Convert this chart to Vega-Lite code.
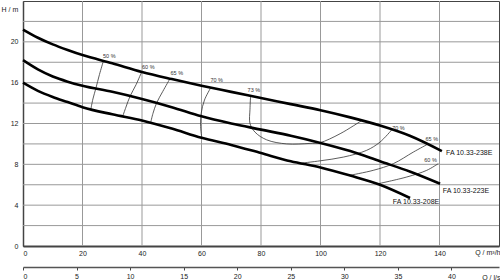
{
  "$schema": "https://vega.github.io/schema/vega-lite/v6.json",
  "width": 476,
  "height": 245,
  "autosize": "none",
  "padding": {"left": 23, "top": 1, "right": 1, "bottom": 34},
  "config": {"view": {"stroke": "#444", "strokeWidth": 1}, "font": "Liberation Sans"},
  "datasets": {
    "gx": [{"Q": 20}, {"Q": 40}, {"Q": 60}, {"Q": 80}, {"Q": 100}, {"Q": 120}, {"Q": 140}],
    "gy": [{"H": 2}, {"H": 4}, {"H": 6}, {"H": 8}, {"H": 10}, {"H": 12}, {"H": 14}, {"H": 16}, {"H": 18}, {"H": 20}, {"H": 22}],
    "curves": [
      {"pump": "238E", "Q": 0, "H": 21.2}, {"pump": "238E", "Q": 5, "H": 20.4}, {"pump": "238E", "Q": 10, "H": 19.75}, {"pump": "238E", "Q": 15, "H": 19.2}, {"pump": "238E", "Q": 20, "H": 18.7}, {"pump": "238E", "Q": 30, "H": 17.9}, {"pump": "238E", "Q": 40, "H": 17.05}, {"pump": "238E", "Q": 50, "H": 16.35}, {"pump": "238E", "Q": 60, "H": 15.7}, {"pump": "238E", "Q": 70, "H": 15.1}, {"pump": "238E", "Q": 80, "H": 14.5}, {"pump": "238E", "Q": 90, "H": 13.9}, {"pump": "238E", "Q": 100, "H": 13.3}, {"pump": "238E", "Q": 110, "H": 12.6}, {"pump": "238E", "Q": 120, "H": 11.8}, {"pump": "238E", "Q": 130, "H": 10.8}, {"pump": "238E", "Q": 140.8, "H": 9.3},
      {"pump": "223E", "Q": 0, "H": 18.2}, {"pump": "223E", "Q": 5, "H": 17.3}, {"pump": "223E", "Q": 10, "H": 16.6}, {"pump": "223E", "Q": 15, "H": 16.1}, {"pump": "223E", "Q": 20, "H": 15.7}, {"pump": "223E", "Q": 30, "H": 15.1}, {"pump": "223E", "Q": 40, "H": 14.4}, {"pump": "223E", "Q": 50, "H": 13.6}, {"pump": "223E", "Q": 60, "H": 12.7}, {"pump": "223E", "Q": 70, "H": 12.0}, {"pump": "223E", "Q": 80, "H": 11.4}, {"pump": "223E", "Q": 90, "H": 10.8}, {"pump": "223E", "Q": 100, "H": 10.1}, {"pump": "223E", "Q": 110, "H": 9.3}, {"pump": "223E", "Q": 120, "H": 8.3}, {"pump": "223E", "Q": 130, "H": 7.3}, {"pump": "223E", "Q": 140.2, "H": 6.1},
      {"pump": "208E", "Q": 0, "H": 16.0}, {"pump": "208E", "Q": 5, "H": 15.2}, {"pump": "208E", "Q": 10, "H": 14.6}, {"pump": "208E", "Q": 15, "H": 14.1}, {"pump": "208E", "Q": 20, "H": 13.6}, {"pump": "208E", "Q": 30, "H": 12.9}, {"pump": "208E", "Q": 40, "H": 12.3}, {"pump": "208E", "Q": 50, "H": 11.5}, {"pump": "208E", "Q": 60, "H": 10.6}, {"pump": "208E", "Q": 70, "H": 9.9}, {"pump": "208E", "Q": 80, "H": 9.1}, {"pump": "208E", "Q": 90, "H": 8.3}, {"pump": "208E", "Q": 100, "H": 7.7}, {"pump": "208E", "Q": 110, "H": 6.9}, {"pump": "208E", "Q": 120, "H": 6.0}, {"pump": "208E", "Q": 130.1, "H": 4.7}
    ],
    "eff": [
      {"e": "50", "o": 1, "Q": 27.0, "H": 18.1}, {"e": "50", "o": 2, "Q": 25.7, "H": 16.8}, {"e": "50", "o": 3, "Q": 24.5, "H": 15.45}, {"e": "50", "o": 4, "Q": 23.5, "H": 14.4}, {"e": "50", "o": 5, "Q": 22.8, "H": 13.4},
      {"e": "60", "o": 1, "Q": 39.9, "H": 17.06}, {"e": "60", "o": 2, "Q": 38.0, "H": 15.8}, {"e": "60", "o": 3, "Q": 36.0, "H": 14.68}, {"e": "60", "o": 4, "Q": 34.6, "H": 13.6}, {"e": "60", "o": 5, "Q": 33.5, "H": 12.69},
      {"e": "65", "o": 1, "Q": 49.4, "H": 16.39}, {"e": "65", "o": 2, "Q": 47.0, "H": 15.15}, {"e": "65", "o": 3, "Q": 44.9, "H": 14.0}, {"e": "65", "o": 4, "Q": 43.7, "H": 13.0}, {"e": "65", "o": 5, "Q": 42.9, "H": 12.07},
      {"e": "70L", "o": 1, "Q": 63.1, "H": 15.5}, {"e": "70L", "o": 2, "Q": 61.0, "H": 14.3}, {"e": "70L", "o": 3, "Q": 59.9, "H": 13.0}, {"e": "70L", "o": 4, "Q": 59.7, "H": 11.7}, {"e": "70L", "o": 5, "Q": 60.1, "H": 10.6},
      {"e": "73", "o": 1, "Q": 76.5, "H": 14.7}, {"e": "73", "o": 2, "Q": 76.3, "H": 13.4}, {"e": "73", "o": 3, "Q": 76.3, "H": 12.0}, {"e": "73", "o": 4, "Q": 78.0, "H": 11.15}, {"e": "73", "o": 5, "Q": 81.9, "H": 10.4}, {"e": "73", "o": 6, "Q": 88.6, "H": 10.0}, {"e": "73", "o": 7, "Q": 96.5, "H": 10.05}, {"e": "73", "o": 8, "Q": 99.8, "H": 10.12}, {"e": "73", "o": 9, "Q": 106.6, "H": 11.0}, {"e": "73", "o": 10, "Q": 113.9, "H": 12.3},
      {"e": "70R", "o": 1, "Q": 93.1, "H": 8.1}, {"e": "70R", "o": 2, "Q": 100, "H": 8.35}, {"e": "70R", "o": 3, "Q": 107.7, "H": 8.71}, {"e": "70R", "o": 4, "Q": 115.5, "H": 9.37}, {"e": "70R", "o": 5, "Q": 120, "H": 10.18}, {"e": "70R", "o": 6, "Q": 124, "H": 11.4},
      {"e": "65R", "o": 1, "Q": 109.9, "H": 6.93}, {"e": "65R", "o": 2, "Q": 117.7, "H": 7.41}, {"e": "65R", "o": 3, "Q": 124.5, "H": 8.07}, {"e": "65R", "o": 4, "Q": 131.2, "H": 9.2}, {"e": "65R", "o": 5, "Q": 136.2, "H": 10.0},
      {"e": "60R", "o": 1, "Q": 119.4, "H": 6.1}, {"e": "60R", "o": 2, "Q": 129, "H": 6.76}, {"e": "60R", "o": 3, "Q": 135.7, "H": 7.41}, {"e": "60R", "o": 4, "Q": 139.6, "H": 8.07}
    ],
    "efflabels": [
      {"t": "50 %", "Q": 29.0, "H": 18.57}, {"t": "60 %", "Q": 42.1, "H": 17.56}, {"t": "65 %", "Q": 51.7, "H": 16.9}, {"t": "70 %", "Q": 65.1, "H": 16.3}, {"t": "73 %", "Q": 77.6, "H": 15.3}, {"t": "70 %", "Q": 126.2, "H": 11.6}, {"t": "65 %", "Q": 137.4, "H": 10.44}, {"t": "60 %", "Q": 137, "H": 8.46}
    ],
    "labelsLeft": [
      {"t": "FA 10.33-238E", "Q": 142.2, "H": 9.07}, {"t": "FA 10.33-223E", "Q": 141.1, "H": 5.37}
    ],
    "labelsRight": [
      {"t": "FA 10.33-208E", "Q": 139.9, "H": 4.32}
    ],
    "ls": [{"ls": 0}, {"ls": 44.44}]
  },
  "layer": [
    {
      "layer": [
        {"data": {"name": "curves"}, "mark": {"type": "line", "interpolate": "monotone", "strokeWidth": 2.6, "color": "#000", "opacity": 0},
          "encoding": {
            "x": {"field": "Q", "type": "quantitative", "scale": {"domain": [0, 160], "nice": false, "zero": false},
              "axis": {"orient": "bottom", "values": [0, 20, 40, 60, 80, 100, 120, 140], "labelOverlap": false, "ticks": false, "labelPadding": 3, "labelFontSize": 7, "labelColor": "#222", "domainColor": "#444", "domainWidth": 2, "grid": false, "title": "Q / m³/h", "titleFontSize": 7, "titleFontWeight": "normal", "titleColor": "#222", "titleAnchor": null, "titleAlign": "right", "titleBaseline": "middle", "titleX": 477, "titleY": 6.5}},
            "y": {"field": "H", "type": "quantitative", "scale": {"domain": [0, 24], "nice": false},
              "axis": {"values": [0, 2, 4, 6, 8, 10, 12, 14, 16, 18, 20, 22, 24], "labelExpr": "datum.value > 20 ? '' : datum.label", "labelOverlap": false, "ticks": false, "labelPadding": 5, "labelFontSize": 7, "labelColor": "#222", "domainColor": "#444", "domainWidth": 1.5, "grid": false, "title": "H / m", "titleAngle": 0, "titleFontSize": 7, "titleFontWeight": "normal", "titleColor": "#222", "titleAnchor": null, "titleAlign": "left", "titleBaseline": "middle", "titleX": -22, "titleY": 8}},
            "detail": {"field": "pump"}}},
        {"data": {"name": "gx"}, "mark": {"type": "rule", "color": "#999", "strokeWidth": 1},
          "encoding": {"x": {"field": "Q", "type": "quantitative", "scale": {"domain": [0, 160], "nice": false, "zero": false}}}},
        {"data": {"name": "gy"}, "mark": {"type": "rule", "color": "#999", "strokeWidth": 1},
          "encoding": {"y": {"field": "H", "type": "quantitative", "scale": {"domain": [0, 24], "nice": false}}}},
        {"data": {"name": "eff"}, "mark": {"type": "line", "interpolate": "catmull-rom", "strokeWidth": 0.8, "color": "#333"},
          "encoding": {
            "x": {"field": "Q", "type": "quantitative", "scale": {"domain": [0, 160], "nice": false, "zero": false}},
            "y": {"field": "H", "type": "quantitative", "scale": {"domain": [0, 24], "nice": false}},
            "detail": {"field": "e"}, "order": {"field": "o", "type": "quantitative"}}},
        {"data": {"name": "curves"}, "mark": {"type": "line", "interpolate": "monotone", "strokeWidth": 2.6, "color": "#000"},
          "encoding": {
            "x": {"field": "Q", "type": "quantitative", "scale": {"domain": [0, 160], "nice": false, "zero": false}},
            "y": {"field": "H", "type": "quantitative", "scale": {"domain": [0, 24], "nice": false}},
            "detail": {"field": "pump"}}},
        {"data": {"name": "efflabels"}, "mark": {"type": "text", "fontSize": 5.5, "color": "#333", "align": "center", "baseline": "middle"},
          "encoding": {
            "x": {"field": "Q", "type": "quantitative", "scale": {"domain": [0, 160], "nice": false, "zero": false}},
            "y": {"field": "H", "type": "quantitative", "scale": {"domain": [0, 24], "nice": false}},
            "text": {"field": "t"}}},
        {"data": {"name": "labelsLeft"}, "mark": {"type": "text", "fontSize": 7, "color": "#111", "align": "left", "baseline": "middle"},
          "encoding": {
            "x": {"field": "Q", "type": "quantitative", "scale": {"domain": [0, 160], "nice": false, "zero": false}},
            "y": {"field": "H", "type": "quantitative", "scale": {"domain": [0, 24], "nice": false}},
            "text": {"field": "t"}}},
        {"data": {"name": "labelsRight"}, "mark": {"type": "text", "fontSize": 7, "color": "#111", "align": "right", "baseline": "middle"},
          "encoding": {
            "x": {"field": "Q", "type": "quantitative", "scale": {"domain": [0, 160], "nice": false, "zero": false}},
            "y": {"field": "H", "type": "quantitative", "scale": {"domain": [0, 24], "nice": false}},
            "text": {"field": "t"}}}
      ]
    },
    {
      "data": {"name": "ls"},
      "mark": {"type": "point", "opacity": 0},
      "encoding": {
        "x": {"field": "ls", "type": "quantitative", "scale": {"domain": [0, 44.44], "nice": false, "zero": false},
          "axis": {"orient": "bottom", "offset": 21, "values": [0, 5, 10, 15, 20, 25, 30, 35, 40], "labelOverlap": false, "grid": false, "ticks": true, "tickSize": 3, "tickColor": "#444", "labelPadding": 2, "labelFontSize": 7, "labelColor": "#222", "domainColor": "#555", "domainWidth": 1.5, "title": "Q / l/s", "titleFontSize": 7, "titleFontWeight": "normal", "titleColor": "#222", "titleAnchor": null, "titleAlign": "right", "titleBaseline": "middle", "titleX": 477, "titleY": 10}}
      }
    }
  ],
  "resolve": {"scale": {"x": "independent"}}
}
